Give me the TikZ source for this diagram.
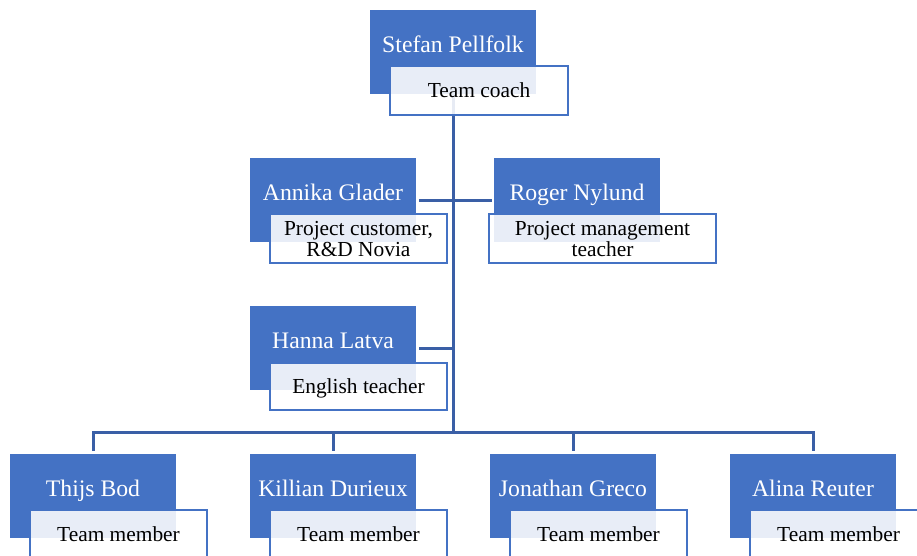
\documentclass[tikz,border=0pt]{standalone}
\usepackage{fontspec}
\setmainfont{Liberation Serif}
\usetikzlibrary{positioning}
\usetikzlibrary{backgrounds}
\usepackage{xcolor}

\definecolor{boxblue}{HTML}{4472C4}
\definecolor{lineblue}{HTML}{3A5FA6}

\begin{document}
\begin{tikzpicture}[x=1pt, y=-1pt,
  person/.style={fill=boxblue, text=white, minimum width=166pt, minimum height=84pt,
    inner sep=0pt, outer sep=0pt, text height=17pt, text depth=17pt,
    font=\fontsize{23.7}{26}\selectfont},
  rolebox/.style={draw=boxblue, line width=2pt, fill=white, fill opacity=0.88, text opacity=1,
    minimum width=177pt, minimum height=49pt, inner sep=0pt, outer sep=0pt,
    align=center, text height=14.5pt, text depth=0pt,
    font=\fontsize{21.4}{21.5}\selectfont},
  tworole/.style={rolebox, text height=36pt},
  conn/.style={draw=lineblue, line width=3pt}]

\useasboundingbox (0,0) rectangle (917,555);

% coach
{
\node[person] (stefan) at (453,52) {Stefan Pellfolk};
\node[rolebox, minimum width=178pt, below right=56pt and 20pt of stefan.north west] (stefan-role) {Team coach};
}

% customer and teachers
{
\node[person] (annika) at (333,200) {Annika Glader};
\node[tworole, below right=56pt and 20pt of annika.north west] (annika-role) {Project customer,\\R\&D Novia};

\node[person] (roger) at (577,200) {Roger Nylund};
\node[tworole, minimum width=227pt, below right=56pt and -5pt of roger.north west] (roger-role) {Project management\\teacher};

\node[person] (hanna) at (333,348) {Hanna Latva};
\node[rolebox, minimum height=47pt, below right=57pt and 20pt of hanna.north west] (hanna-role) {English teacher};
}

% team members
{
\node[person] (thijs) at (93,496) {Thijs Bod};
\node[rolebox, below right=56pt and 20pt of thijs.north west] (thijs-role) {Team member};

\node[person] (killian) at (333,496) {Killian Durieux};
\node[rolebox, below right=56pt and 20pt of killian.north west] (killian-role) {Team member};

\node[person] (jonathan) at (573,496) {Jonathan Greco};
\node[rolebox, below right=56pt and 20pt of jonathan.north west] (jonathan-role) {Team member};

\node[person] (alina) at (813,496) {Alina Reuter};
\node[rolebox, below right=56pt and 20pt of alina.north west] (alina-role) {Team member};
}

\coordinate (bus) at (453,432);

% lines behind the boxes
\begin{scope}[on background layer]
\draw[conn] (stefan.south) -- (bus);
\draw[conn, shorten <=3pt, shorten >=2pt] (annika.east) -- (roger.west);
\draw[conn, shorten <=3pt] (hanna.east) -- (hanna.east -| bus);

\draw[conn, shorten <=3pt, shorten >=3pt] (thijs.north) |- (bus -| alina.north) -- (alina.north);
\draw[conn, shorten >=3pt] (bus -| killian.north) -- (killian.north);
\draw[conn, shorten >=3pt] (bus -| jonathan.north) -- (jonathan.north);
\end{scope}

\end{tikzpicture}
\end{document}
